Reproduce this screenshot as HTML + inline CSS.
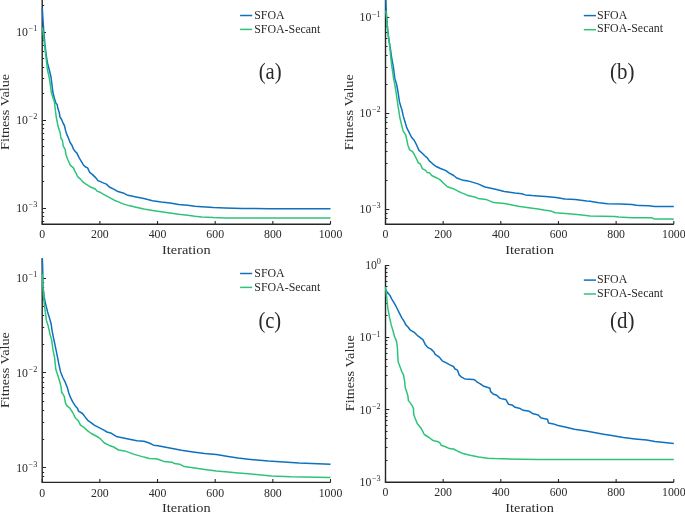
<!DOCTYPE html>
<html><head><meta charset="utf-8"><style>
html,body{margin:0;padding:0;background:#fff;}
body{width:685px;height:512px;overflow:hidden;}
svg{display:block;will-change:transform;}
text{font-family:"Liberation Serif",serif;fill:#2a2a2a;}
.t{font-size:11.8px;}
.s{font-size:8.2px;}
.l{font-size:13.3px;}
.g{font-size:11.9px;}
.p{font-size:23.4px;}
</style></head><body>
<svg width="685" height="512" viewBox="0 0 685 512">
<rect width="685" height="512" fill="#fff"/>
<path d="M42.20 221.50h2.0M42.20 216.50h2.0M42.20 212.50h2.0M42.20 208.50h3.8M42.20 181.50h2.0M42.20 166.50h2.0M42.20 155.50h2.0M42.20 146.50h2.0M42.20 139.50h2.0M42.20 133.50h2.0M42.20 128.50h2.0M42.20 124.50h2.0M42.20 120.50h3.8M42.20 93.50h2.0M42.20 78.50h2.0M42.20 67.50h2.0M42.20 58.50h2.0M42.20 51.50h2.0M42.20 45.50h2.0M42.20 40.50h2.0M42.20 36.50h2.0M42.20 32.50h3.8M42.20 5.50h2.0M42.20 224.30v-3.4M99.86 224.30v-3.4M157.52 224.30v-3.4M215.18 224.30v-3.4M272.84 224.30v-3.4M330.50 224.30v-3.4" stroke="#262626" stroke-width="1.1" fill="none"/>
<path d="M42.20 -2.00V224.30H330.50" stroke="#262626" stroke-width="1.4" fill="none"/>
<path d="M42.30 8.20 L43.00 20.00 L43.80 32.00 L45.00 45.00 L46.60 58.00 L47.75 64.00 L49.30 70.00 L50.90 76.50 L52.00 85.00 L52.80 92.00 L54.40 98.25 L55.90 103.25 L57.20 104.50 L57.80 108.25 L59.10 112.00 L60.00 117.00 L61.60 119.50 L63.10 123.25 L64.40 125.50 L65.50 130.20 L66.70 134.10 L68.70 138.75 L70.20 142.70 L71.80 145.00 L73.40 148.90 L75.00 151.25 L76.90 153.10 L79.20 157.80 L83.40 164.90 L85.20 166.80 L87.60 167.90 L89.00 170.90 L89.90 172.60 L92.30 174.40 L95.80 177.90 L98.10 180.80 L100.00 181.40 L102.50 182.60 L106.40 184.10 L109.30 187.00 L114.20 189.40 L117.10 191.20 L124.00 193.30 L127.90 195.30 L133.80 196.60 L143.80 198.60 L152.50 200.80 L161.30 202.10 L170.00 202.90 L178.80 204.40 L187.50 205.30 L195.00 206.20 L201.70 206.80 L213.40 207.60 L225.00 208.00 L242.60 208.50 L270.00 208.70 L330.50 208.70" stroke="#0E71BF" stroke-width="1.5" fill="none" stroke-linejoin="round"/>
<path d="M42.30 27.50 L42.80 30.00 L44.50 45.00 L46.30 60.00 L47.50 70.00 L49.30 78.20 L50.40 85.20 L51.25 92.00 L53.10 98.25 L54.40 102.00 L55.00 107.00 L55.60 112.00 L56.25 117.00 L57.60 124.00 L58.50 127.80 L60.10 132.50 L60.90 138.00 L62.40 140.30 L63.20 145.80 L65.20 149.70 L65.90 154.40 L67.90 160.00 L70.60 165.60 L73.50 167.90 L74.70 170.90 L76.40 173.80 L77.60 176.70 L80.50 179.10 L82.30 181.40 L85.20 183.70 L89.90 186.70 L95.20 189.00 L97.50 191.40 L100.00 192.20 L103.50 194.30 L108.30 196.80 L114.20 200.20 L119.10 202.10 L123.00 203.90 L128.90 205.60 L135.00 206.90 L143.80 209.10 L152.50 210.40 L161.30 211.70 L170.00 213.00 L178.80 214.30 L187.50 215.20 L195.00 216.30 L201.70 216.90 L213.40 217.60 L225.00 217.90 L242.60 218.10 L330.50 218.10" stroke="#2EC478" stroke-width="1.5" fill="none" stroke-linejoin="round"/>
<text x="37.30" y="211.80" text-anchor="end" class="t"><tspan>10</tspan><tspan class="s" dx="0.6" dy="-4.8">−3</tspan></text>
<text x="37.30" y="123.80" text-anchor="end" class="t"><tspan>10</tspan><tspan class="s" dx="0.6" dy="-4.8">−2</tspan></text>
<text x="37.30" y="35.80" text-anchor="end" class="t"><tspan>10</tspan><tspan class="s" dx="0.6" dy="-4.8">−1</tspan></text>
<text x="42.20" y="238.40" text-anchor="middle" class="t">0</text>
<text x="99.86" y="238.40" text-anchor="middle" class="t">200</text>
<text x="157.52" y="238.40" text-anchor="middle" class="t">400</text>
<text x="215.18" y="238.40" text-anchor="middle" class="t">600</text>
<text x="272.84" y="238.40" text-anchor="middle" class="t">800</text>
<text x="330.50" y="238.40" text-anchor="middle" class="t">1000</text>
<text x="186.35" y="253.70" text-anchor="middle" class="l" textLength="48.6" lengthAdjust="spacingAndGlyphs">Iteration</text>
<text transform="translate(9.10 111.90) rotate(-90)" text-anchor="middle" class="l" textLength="76.0" lengthAdjust="spacingAndGlyphs">Fitness Value</text>
<path d="M240.1 15.5H252.2" stroke="#0E71BF" stroke-width="1.5"/>
<path d="M240.1 29.4H252.2" stroke="#2EC478" stroke-width="1.5"/>
<text x="254.2" y="18.8" class="g">SFOA</text>
<text x="254.2" y="32.7" class="g">SFOA-Secant</text>
<text x="270.2" y="79.3" text-anchor="middle" class="p" textLength="23.0" lengthAdjust="spacingAndGlyphs">(a)</text>
<path d="M385.50 224.50h2.0M385.50 218.50h2.0M385.50 213.50h2.0M385.50 209.50h3.8M385.50 180.50h2.0M385.50 163.50h2.0M385.50 151.50h2.0M385.50 142.50h2.0M385.50 134.50h2.0M385.50 128.50h2.0M385.50 122.50h2.0M385.50 117.50h2.0M385.50 113.50h3.8M385.50 84.50h2.0M385.50 67.50h2.0M385.50 55.50h2.0M385.50 46.50h2.0M385.50 38.50h2.0M385.50 32.50h2.0M385.50 26.50h2.0M385.50 21.50h2.0M385.50 17.50h3.8M385.50 224.30v-3.4M443.16 224.30v-3.4M500.82 224.30v-3.4M558.48 224.30v-3.4M616.14 224.30v-3.4M673.80 224.30v-3.4" stroke="#262626" stroke-width="1.1" fill="none"/>
<path d="M385.50 -2.00V224.30H673.80" stroke="#262626" stroke-width="1.4" fill="none"/>
<path d="M385.90 -2.00 L385.90 1.80 L386.20 10.50 L387.60 30.00 L388.90 40.00 L390.60 50.00 L392.00 60.00 L393.30 66.70 L394.80 78.40 L396.60 84.30 L397.70 90.20 L399.50 101.90 L401.20 107.80 L402.00 110.00 L403.20 115.90 L405.00 121.70 L406.70 127.60 L409.10 132.30 L411.40 137.00 L414.30 140.50 L416.70 145.20 L419.00 150.40 L423.10 154.00 L424.40 155.50 L427.30 157.90 L429.30 160.90 L432.70 163.80 L436.10 166.50 L440.50 168.50 L445.90 170.60 L449.30 173.10 L453.70 175.50 L456.70 178.00 L462.00 179.90 L467.90 180.90 L474.70 182.90 L478.00 183.90 L485.00 187.00 L495.50 189.20 L504.30 191.40 L514.80 193.10 L521.80 193.80 L525.30 194.90 L532.30 195.60 L538.00 195.90 L545.50 196.60 L556.00 197.50 L564.80 198.90 L575.30 199.60 L586.70 201.00 L590.00 201.30 L598.80 202.80 L607.50 203.70 L620.60 204.10 L632.00 204.60 L636.40 205.30 L640.00 205.50 L648.80 205.80 L654.60 206.40 L673.80 206.60" stroke="#0E71BF" stroke-width="1.5" fill="none" stroke-linejoin="round"/>
<path d="M385.90 10.50 L387.10 23.40 L388.30 35.20 L389.80 46.90 L391.00 60.00 L391.90 66.70 L393.60 78.40 L395.40 87.80 L397.10 99.50 L398.30 107.80 L398.70 110.00 L399.70 117.00 L401.40 124.10 L403.20 131.10 L405.60 134.60 L406.70 139.30 L407.90 145.20 L409.70 149.90 L412.60 151.60 L414.30 154.50 L416.10 158.10 L418.40 162.80 L420.50 164.20 L422.40 168.70 L425.90 170.60 L427.30 172.60 L429.80 173.10 L431.70 175.50 L434.70 177.00 L439.60 179.40 L443.50 183.30 L447.40 186.80 L453.20 188.70 L458.10 191.20 L461.10 192.60 L465.00 194.10 L467.90 195.60 L474.70 197.00 L478.00 198.40 L485.90 199.40 L493.80 202.60 L504.30 203.60 L514.80 205.40 L518.30 206.30 L530.50 208.00 L538.00 208.90 L543.80 210.10 L550.80 210.90 L555.10 212.70 L565.60 213.60 L577.00 214.50 L584.00 215.30 L590.00 215.90 L603.10 216.20 L614.50 216.60 L618.90 217.10 L632.00 217.70 L651.70 217.80 L654.10 218.90 L670.50 219.00 L673.80 219.30" stroke="#2EC478" stroke-width="1.5" fill="none" stroke-linejoin="round"/>
<text x="380.60" y="213.10" text-anchor="end" class="t"><tspan>10</tspan><tspan class="s" dx="0.6" dy="-4.8">−3</tspan></text>
<text x="380.60" y="117.25" text-anchor="end" class="t"><tspan>10</tspan><tspan class="s" dx="0.6" dy="-4.8">−2</tspan></text>
<text x="380.60" y="21.40" text-anchor="end" class="t"><tspan>10</tspan><tspan class="s" dx="0.6" dy="-4.8">−1</tspan></text>
<text x="385.50" y="238.40" text-anchor="middle" class="t">0</text>
<text x="443.16" y="238.40" text-anchor="middle" class="t">200</text>
<text x="500.82" y="238.40" text-anchor="middle" class="t">400</text>
<text x="558.48" y="238.40" text-anchor="middle" class="t">600</text>
<text x="616.14" y="238.40" text-anchor="middle" class="t">800</text>
<text x="673.80" y="238.40" text-anchor="middle" class="t">1000</text>
<text x="529.65" y="253.70" text-anchor="middle" class="l" textLength="48.6" lengthAdjust="spacingAndGlyphs">Iteration</text>
<text transform="translate(353.20 112.20) rotate(-90)" text-anchor="middle" class="l" textLength="76.0" lengthAdjust="spacingAndGlyphs">Fitness Value</text>
<path d="M583.8 15.6H596.0" stroke="#0E71BF" stroke-width="1.5"/>
<path d="M583.8 29.7H596.0" stroke="#2EC478" stroke-width="1.5"/>
<text x="596.9" y="18.6" class="g">SFOA</text>
<text x="596.9" y="32.4" class="g">SFOA-Secant</text>
<text x="622.3" y="79.3" text-anchor="middle" class="p" textLength="24.4" lengthAdjust="spacingAndGlyphs">(b)</text>
<path d="M42.20 482.50h2.0M42.20 476.50h2.0M42.20 472.50h2.0M42.20 467.50h3.8M42.20 439.50h2.0M42.20 422.50h2.0M42.20 410.50h2.0M42.20 401.50h2.0M42.20 393.50h2.0M42.20 387.50h2.0M42.20 382.50h2.0M42.20 377.50h2.0M42.20 372.50h3.8M42.20 344.50h2.0M42.20 327.50h2.0M42.20 315.50h2.0M42.20 306.50h2.0M42.20 299.50h2.0M42.20 292.50h2.0M42.20 287.50h2.0M42.20 282.50h2.0M42.20 278.50h3.8M42.20 482.40v-3.4M99.86 482.40v-3.4M157.52 482.40v-3.4M215.18 482.40v-3.4M272.84 482.40v-3.4M330.50 482.40v-3.4" stroke="#262626" stroke-width="1.1" fill="none"/>
<path d="M42.20 258.30V482.40H330.50" stroke="#262626" stroke-width="1.4" fill="none"/>
<path d="M42.30 258.30 L42.60 266.00 L42.80 273.75 L42.90 285.00 L44.10 296.70 L45.30 302.60 L47.60 312.00 L49.40 317.80 L51.10 323.70 L52.30 331.90 L53.50 337.80 L54.00 340.00 L55.20 345.90 L56.40 351.70 L57.60 357.60 L58.70 363.40 L60.50 371.70 L62.80 377.50 L65.20 382.20 L67.50 388.10 L68.80 393.00 L70.70 397.90 L72.70 401.80 L75.10 405.70 L77.60 408.60 L78.60 411.10 L82.50 413.50 L85.40 417.40 L87.80 420.30 L91.30 422.80 L94.20 425.20 L99.10 427.70 L103.90 430.10 L107.00 432.00 L111.40 433.30 L116.30 436.40 L124.60 438.20 L136.90 440.80 L143.90 441.30 L149.20 443.00 L153.60 445.20 L158.00 445.80 L169.70 447.90 L181.40 450.30 L193.00 451.90 L204.70 453.40 L216.40 454.60 L228.10 456.60 L238.00 458.10 L248.40 459.20 L268.30 461.00 L299.00 463.00 L330.50 464.20" stroke="#0E71BF" stroke-width="1.5" fill="none" stroke-linejoin="round"/>
<path d="M42.30 273.75 L42.90 285.00 L43.50 295.00 L44.10 302.60 L45.30 312.00 L46.40 320.20 L48.20 326.00 L50.00 334.20 L51.70 340.10 L52.90 349.40 L54.60 357.60 L55.80 369.30 L58.10 376.30 L59.90 382.20 L61.10 386.90 L61.70 392.80 L62.40 393.00 L64.40 396.90 L65.40 402.80 L66.80 405.70 L69.80 408.10 L72.70 412.50 L75.10 417.40 L78.60 421.30 L80.50 425.20 L84.40 427.70 L87.30 430.60 L91.30 433.50 L96.10 436.00 L100.00 438.40 L104.40 443.00 L108.80 445.20 L113.60 447.00 L118.50 450.00 L124.60 450.90 L134.30 454.40 L143.90 457.10 L149.20 458.40 L155.40 458.80 L158.00 459.30 L163.80 461.40 L172.00 462.20 L174.40 463.60 L179.60 464.20 L184.30 466.60 L193.00 467.70 L204.70 469.40 L216.40 471.00 L228.10 472.10 L238.00 472.90 L248.40 473.70 L271.40 476.00 L291.30 476.80 L330.50 477.40" stroke="#2EC478" stroke-width="1.5" fill="none" stroke-linejoin="round"/>
<text x="37.30" y="471.60" text-anchor="end" class="t"><tspan>10</tspan><tspan class="s" dx="0.6" dy="-4.8">−3</tspan></text>
<text x="37.30" y="376.70" text-anchor="end" class="t"><tspan>10</tspan><tspan class="s" dx="0.6" dy="-4.8">−2</tspan></text>
<text x="37.30" y="281.80" text-anchor="end" class="t"><tspan>10</tspan><tspan class="s" dx="0.6" dy="-4.8">−1</tspan></text>
<text x="42.20" y="496.50" text-anchor="middle" class="t">0</text>
<text x="99.86" y="496.50" text-anchor="middle" class="t">200</text>
<text x="157.52" y="496.50" text-anchor="middle" class="t">400</text>
<text x="215.18" y="496.50" text-anchor="middle" class="t">600</text>
<text x="272.84" y="496.50" text-anchor="middle" class="t">800</text>
<text x="330.50" y="496.50" text-anchor="middle" class="t">1000</text>
<text x="186.35" y="511.80" text-anchor="middle" class="l" textLength="48.6" lengthAdjust="spacingAndGlyphs">Iteration</text>
<text transform="translate(9.20 370.10) rotate(-90)" text-anchor="middle" class="l" textLength="76.0" lengthAdjust="spacingAndGlyphs">Fitness Value</text>
<path d="M240.1 273.5H252.2" stroke="#0E71BF" stroke-width="1.5"/>
<path d="M240.1 287.4H252.2" stroke="#2EC478" stroke-width="1.5"/>
<text x="254.3" y="276.8" class="g">SFOA</text>
<text x="254.3" y="290.7" class="g">SFOA-Secant</text>
<text x="269.8" y="328.3" text-anchor="middle" class="p" textLength="22.8" lengthAdjust="spacingAndGlyphs">(c)</text>
<path d="M385.50 482.50h3.8M385.50 460.50h2.0M385.50 447.50h2.0M385.50 438.50h2.0M385.50 431.50h2.0M385.50 425.50h2.0M385.50 420.50h2.0M385.50 416.50h2.0M385.50 413.50h2.0M385.50 409.50h3.8M385.50 388.50h2.0M385.50 375.50h2.0M385.50 366.50h2.0M385.50 359.50h2.0M385.50 353.50h2.0M385.50 348.50h2.0M385.50 344.50h2.0M385.50 340.50h2.0M385.50 337.50h3.8M385.50 315.50h2.0M385.50 303.50h2.0M385.50 293.50h2.0M385.50 286.50h2.0M385.50 281.50h2.0M385.50 276.50h2.0M385.50 272.50h2.0M385.50 268.50h2.0M385.50 265.50h3.8M385.50 482.30v-3.4M443.16 482.30v-3.4M500.82 482.30v-3.4M558.48 482.30v-3.4M616.14 482.30v-3.4M673.80 482.30v-3.4" stroke="#262626" stroke-width="1.1" fill="none"/>
<path d="M385.50 265.30V482.30H673.80" stroke="#262626" stroke-width="1.4" fill="none"/>
<path d="M385.70 289.50 L387.10 292.10 L390.00 295.60 L391.80 299.10 L394.70 303.80 L397.10 308.50 L399.40 313.20 L401.80 317.90 L404.10 321.40 L405.90 324.90 L408.20 327.20 L410.00 329.80 L414.70 332.70 L418.20 336.20 L422.90 339.70 L425.20 344.40 L427.60 347.30 L431.10 349.10 L434.00 352.00 L435.20 354.40 L439.30 357.10 L442.20 360.80 L446.30 362.90 L449.90 364.90 L453.40 366.50 L455.10 369.00 L457.50 370.20 L459.20 374.90 L461.60 377.20 L463.90 378.40 L465.00 378.90 L473.20 379.40 L475.20 380.20 L477.30 382.20 L480.30 383.80 L483.90 386.30 L487.00 387.30 L490.00 388.30 L490.50 391.40 L493.10 394.00 L496.70 395.30 L499.70 398.10 L502.80 399.10 L505.90 399.60 L508.40 404.20 L512.00 404.90 L515.10 407.30 L520.20 408.60 L523.20 410.30 L529.40 411.30 L532.40 413.40 L538.20 414.90 L541.10 418.10 L547.50 419.30 L548.50 423.10 L553.40 423.90 L558.00 425.50 L565.00 426.90 L574.40 429.20 L586.10 430.90 L595.40 432.70 L603.60 434.20 L611.70 435.40 L623.40 437.50 L635.00 438.90 L646.70 440.10 L654.90 441.60 L673.80 443.60" stroke="#0E71BF" stroke-width="1.5" fill="none" stroke-linejoin="round"/>
<path d="M385.60 286.80 L386.50 295.60 L387.70 307.30 L389.40 316.70 L391.20 324.90 L393.00 330.80 L394.30 336.00 L396.40 340.90 L397.30 346.70 L397.60 352.60 L398.20 362.00 L400.00 366.70 L401.70 371.30 L403.50 374.90 L404.70 381.90 L405.20 387.80 L406.10 390.00 L407.90 395.90 L408.40 400.60 L410.20 402.90 L412.60 406.40 L413.50 408.80 L413.70 414.60 L415.50 419.30 L417.20 423.40 L419.60 426.30 L421.30 428.70 L423.10 432.20 L424.30 434.50 L429.00 437.50 L432.50 440.20 L435.00 441.10 L438.50 441.80 L440.30 443.30 L441.10 445.30 L445.50 446.80 L449.40 448.60 L453.40 449.00 L457.80 451.20 L463.00 453.60 L470.00 455.30 L478.80 457.10 L487.50 458.20 L495.00 458.60 L519.20 459.30 L540.00 459.60 L673.80 459.60" stroke="#2EC478" stroke-width="1.5" fill="none" stroke-linejoin="round"/>
<text x="380.60" y="485.90" text-anchor="end" class="t"><tspan>10</tspan><tspan class="s" dx="0.6" dy="-4.8">−3</tspan></text>
<text x="380.60" y="413.60" text-anchor="end" class="t"><tspan>10</tspan><tspan class="s" dx="0.6" dy="-4.8">−2</tspan></text>
<text x="380.60" y="341.30" text-anchor="end" class="t"><tspan>10</tspan><tspan class="s" dx="0.6" dy="-4.8">−1</tspan></text>
<text x="380.90" y="269.00" text-anchor="end" class="t"><tspan>10</tspan><tspan class="s" dx="-0.2" dy="-4.8">0</tspan></text>
<text x="385.50" y="496.40" text-anchor="middle" class="t">0</text>
<text x="443.16" y="496.40" text-anchor="middle" class="t">200</text>
<text x="500.82" y="496.40" text-anchor="middle" class="t">400</text>
<text x="558.48" y="496.40" text-anchor="middle" class="t">600</text>
<text x="616.14" y="496.40" text-anchor="middle" class="t">800</text>
<text x="673.80" y="496.40" text-anchor="middle" class="t">1000</text>
<text x="529.65" y="511.70" text-anchor="middle" class="l" textLength="48.6" lengthAdjust="spacingAndGlyphs">Iteration</text>
<text transform="translate(353.60 373.20) rotate(-90)" text-anchor="middle" class="l" textLength="76.0" lengthAdjust="spacingAndGlyphs">Fitness Value</text>
<path d="M583.8 280.1H596.0" stroke="#0E71BF" stroke-width="1.5"/>
<path d="M583.8 294.0H596.0" stroke="#2EC478" stroke-width="1.5"/>
<text x="596.9" y="283.3" class="g">SFOA</text>
<text x="596.9" y="297.1" class="g">SFOA-Secant</text>
<text x="622.3" y="328.3" text-anchor="middle" class="p" textLength="24.4" lengthAdjust="spacingAndGlyphs">(d)</text>
</svg>
</body></html>
